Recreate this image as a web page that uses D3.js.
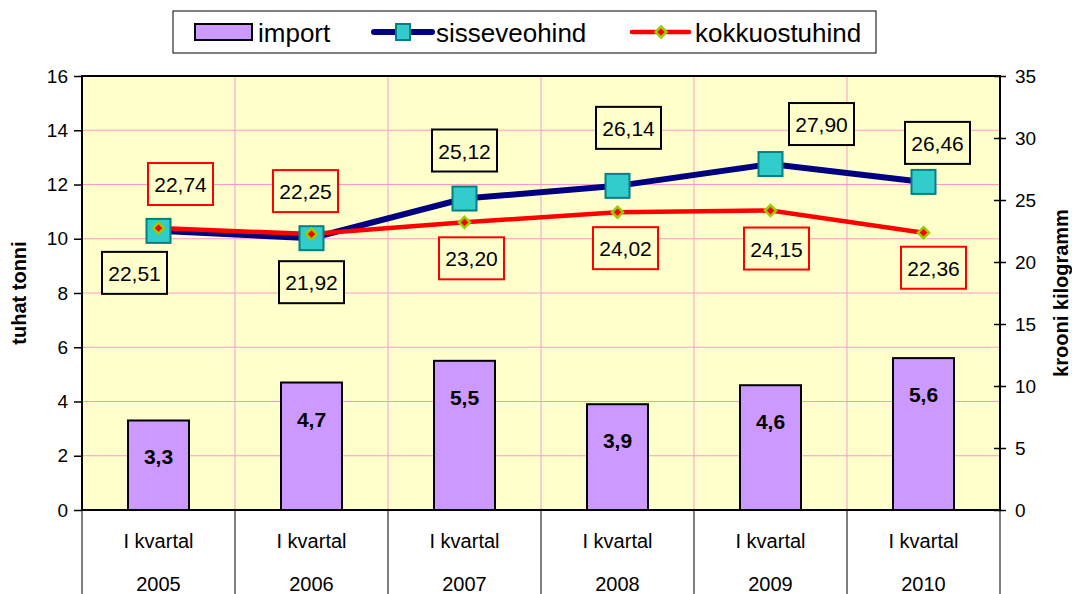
<!DOCTYPE html>
<html>
<head>
<meta charset="utf-8">
<script src="https://cdn.jsdelivr.net/npm/d3@7"></script>
<style>
  body { margin: 0; background: #fff; }
  text { font-family: "Liberation Sans", Arial, sans-serif; }
</style>
</head>
<body>
<svg id="chart" width="1072" height="594"></svg>
<script>
const quarters = ["I kvartal", "I kvartal", "I kvartal", "I kvartal", "I kvartal", "I kvartal"];
const years = ["2005", "2006", "2007", "2008", "2009", "2010"];
const importValues = [3.3, 4.7, 5.5, 3.9, 4.6, 5.6];
const sisseveohind = [22.51, 21.92, 25.12, 26.14, 27.90, 26.46];
const kokkuostuhind = [22.74, 22.25, 23.20, 24.02, 24.15, 22.36];
const leftTicks = [0, 2, 4, 6, 8, 10, 12, 14, 16];
const rightTicks = [0, 5, 10, 15, 20, 25, 30, 35];

// label box offsets from their point (px)
const sisseOffsets = [[-24, 42], [0, 44], [0, -48], [11, -58], [51, -40], [14, -39]];
const kokkuOffsets = [[22, -44], [-6, -43], [7, 36], [8, 36], [6, 38], [10, 35]];

const margin = { top: 76, right: 72, bottom: 84, left: 82 },
    width = 1072 - margin.left - margin.right,
    height = 594 - margin.top - margin.bottom;

const svg = d3.select("#chart");
const g = svg.append("g").attr("transform", `translate(${margin.left},${margin.top})`);

const x = d3.scaleBand().domain(years).range([0, width]).padding(0);
const yL = d3.scaleLinear().domain([0, 16]).range([height, 0]);
const yR = d3.scaleLinear().domain([0, 35]).range([height, 0]);
const cx = i => x(years[i]) + x.bandwidth() / 2;

// plot background
g.append("rect").attr("width", width).attr("height", height).attr("fill", "#ffffcc");

// grid
g.selectAll(".hgrid").data(leftTicks.slice(1, -1)).join("line")
    .attr("x1", 0).attr("x2", width).attr("y1", d => yL(d)).attr("y2", d => yL(d))
    .attr("stroke", "#ff99cc").attr("stroke-width", 1);
g.selectAll(".vgrid").data(years.slice(1)).join("line")
    .attr("x1", d => x(d)).attr("x2", d => x(d)).attr("y1", 0).attr("y2", height)
    .attr("stroke", "#ff99cc").attr("stroke-width", 1);

// bars
const barW = 61;
g.selectAll(".bar").data(importValues).join("rect")
    .attr("x", (d, i) => cx(i) - barW / 2).attr("y", d => yL(d))
    .attr("width", barW).attr("height", d => height - yL(d))
    .attr("fill", "#cc99ff").attr("stroke", "#000").attr("stroke-width", 2);
g.selectAll(".barlabel").data(importValues).join("text")
    .attr("x", (d, i) => cx(i)).attr("y", d => yL(d) + 44)
    .attr("text-anchor", "middle").attr("font-size", 21).attr("font-weight", "bold")
    .text(d => d.toFixed(1).replace(".", ","));

// frame
g.append("rect").attr("width", width).attr("height", height).attr("fill", "none")
    .attr("stroke", "#000").attr("stroke-width", 2);

// left axis
g.append("g").call(d3.axisLeft(yL).tickValues(leftTicks).tickSize(8).tickPadding(6))
    .call(a => a.select(".domain").remove())
    .call(a => a.selectAll("line").attr("stroke-width", 1.5))
    .call(a => a.selectAll("text").attr("font-size", 19).attr("font-family", "Liberation Sans, Arial"));

// right axis
g.append("g").attr("transform", `translate(${width},0)`)
    .call(d3.axisRight(yR).tickValues(rightTicks).tickSize(6).tickPadding(9))
    .call(a => a.select(".domain").remove())
    .call(a => a.selectAll("line").attr("x1", -6).attr("stroke-width", 1.5))
    .call(a => a.selectAll("text").attr("font-size", 19).attr("font-family", "Liberation Sans, Arial"));

// category axis
const cat = g.append("g").attr("transform", `translate(0,${height})`);
cat.selectAll("line").data(years.concat(["end"])).join("line")
    .attr("x1", (d, i) => i < years.length ? x(d) : width)
    .attr("x2", (d, i) => i < years.length ? x(d) : width)
    .attr("y1", 0).attr("y2", margin.bottom).attr("stroke", "#000").attr("stroke-width", 1);
cat.selectAll(".q").data(quarters).join("text")
    .attr("x", (d, i) => cx(i)).attr("y", 38).attr("text-anchor", "middle")
    .attr("font-size", 20).text(d => d);
cat.selectAll(".yr").data(years).join("text")
    .attr("x", (d, i) => cx(i)).attr("y", 81).attr("text-anchor", "middle")
    .attr("font-size", 20).text(d => d);

// axis titles
svg.append("text").attr("transform", `translate(26,${margin.top + height / 2}) rotate(-90)`)
    .attr("text-anchor", "middle").attr("font-size", 20).attr("font-weight", "bold").text("tuhat tonni");
svg.append("text").attr("transform", `translate(1068,${margin.top + height / 2}) rotate(-90)`)
    .attr("text-anchor", "middle").attr("font-size", 20).attr("font-weight", "bold").text("krooni kilogramm");

// lines
const line = d3.line().x((d, i) => cx(i)).y(d => yR(d));
g.append("path").datum(sisseveohind).attr("d", line).attr("fill", "none")
    .attr("stroke", "#000080").attr("stroke-width", 6);
g.append("path").datum(kokkuostuhind).attr("d", line).attr("fill", "none")
    .attr("stroke", "#ff0000").attr("stroke-width", 4.5);

// markers
const sq = 24;
g.selectAll(".sq").data(sisseveohind).join("rect")
    .attr("x", (d, i) => cx(i) - sq / 2).attr("y", d => yR(d) - sq / 2)
    .attr("width", sq).attr("height", sq)
    .attr("fill", "#33cccc").attr("stroke", "#008080").attr("stroke-width", 2);
g.selectAll(".dm").data(kokkuostuhind).join("path")
    .attr("d", "M0,-5.5L5.5,0L0,5.5L-5.5,0Z")
    .attr("transform", (d, i) => `translate(${cx(i)},${yR(d)})`)
    .attr("fill", "#ff0000").attr("stroke", "#99cc00").attr("stroke-width", 2.5);

// data label boxes
function labels(values, offsets, color) {
  const bw = 65, bh = 42;
  const lg = g.append("g");
  values.forEach((v, i) => {
    const px = cx(i) + offsets[i][0], py = yR(v) + offsets[i][1];
    lg.append("rect").attr("x", px - bw / 2).attr("y", py - bh / 2).attr("width", bw).attr("height", bh)
        .attr("fill", "#ffffcc").attr("stroke", color).attr("stroke-width", 2);
    lg.append("text").attr("x", px).attr("y", py + 8).attr("text-anchor", "middle")
        .attr("font-size", 21).text(v.toFixed(2).replace(".", ","));
  });
}
labels(sisseveohind, sisseOffsets, "#000");
labels(kokkuostuhind, kokkuOffsets, "#ff0000");

// legend
const lgd = svg.append("g");
lgd.append("rect").attr("x", 173).attr("y", 11).attr("width", 703).attr("height", 42)
    .attr("fill", "#fff").attr("stroke", "#000").attr("stroke-width", 1);
lgd.append("rect").attr("x", 195).attr("y", 24).attr("width", 57).attr("height", 16)
    .attr("fill", "#cc99ff").attr("stroke", "#000").attr("stroke-width", 2);
lgd.append("text").attr("x", 258).attr("y", 42).attr("font-size", 26).text("import");
lgd.append("line").attr("x1", 374).attr("x2", 432).attr("y1", 32).attr("y2", 32)
    .attr("stroke", "#000080").attr("stroke-width", 6).attr("stroke-linecap", "round");
lgd.append("rect").attr("x", 396).attr("y", 24).attr("width", 14).attr("height", 16)
    .attr("fill", "#33cccc").attr("stroke", "#008080").attr("stroke-width", 2);
lgd.append("text").attr("x", 436).attr("y", 42).attr("font-size", 26).text("sisseveohind");
lgd.append("line").attr("x1", 632).attr("x2", 689).attr("y1", 32).attr("y2", 32)
    .attr("stroke", "#ff0000").attr("stroke-width", 4.5).attr("stroke-linecap", "round");
lgd.append("path").attr("d", "M0,-5.5L5.5,0L0,5.5L-5.5,0Z").attr("transform", "translate(661,32)")
    .attr("fill", "#ff0000").attr("stroke", "#99cc00").attr("stroke-width", 2.5);
lgd.append("text").attr("x", 695).attr("y", 42).attr("font-size", 26).text("kokkuostuhind");
</script>
</body>
</html>
